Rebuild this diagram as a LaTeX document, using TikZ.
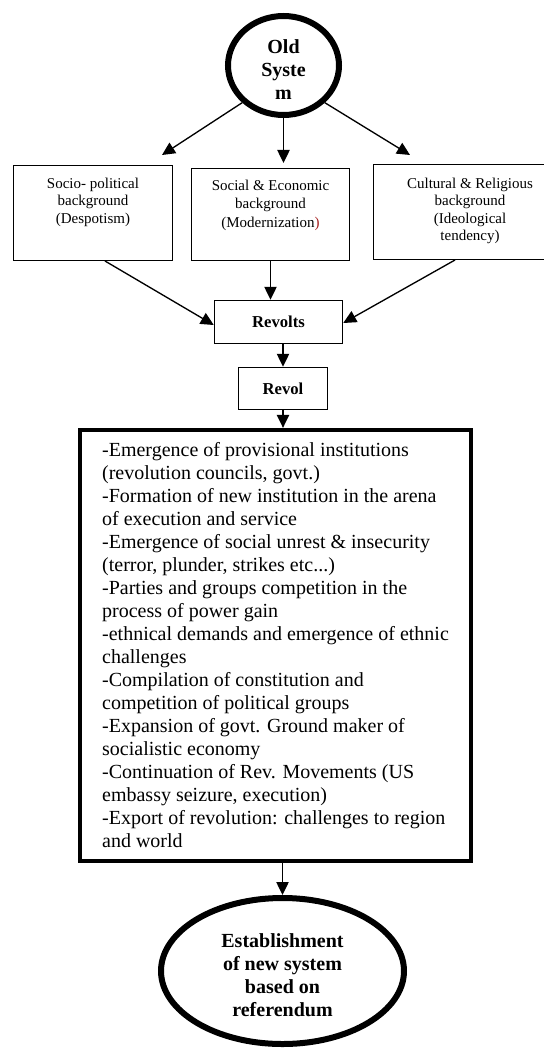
\documentclass[tikz,border=0pt]{standalone}
\usepackage{fontspec}
\setmainfont{Liberation Serif}
\usetikzlibrary{positioning,arrows.meta,calc,shapes.geometric}
\definecolor{parred}{RGB}{165,30,30}
\tikzset{
  bgbox/.style={draw,line width=0.6pt,inner sep=0pt,
                font=\fontsize{9pt}{10.5pt}\selectfont},
  revbox/.style={draw,line width=0.9pt,inner sep=0pt,
                 font=\fontsize{10pt}{12pt}\selectfont\bfseries},
  bigbox/.style={draw,line width=2.6pt,inner sep=0pt,align=left,
                 font=\fontsize{12pt}{13.8pt}\selectfont},
  sysoval/.style={draw,ellipse,line width=3.6pt,inner sep=0pt,align=center,
                  font=\fontsize{12pt}{13.8pt}\selectfont\bfseries},
  ln/.style={-{Triangle[length=7.8pt,width=7.4pt]},line width=0.8pt},
}
\newcommand{\lowered}[1]{\raisebox{-3.6pt}[\height][\depth]{\begin{tabular}{@{}c@{}}#1\end{tabular}}}

\begin{document}
\begin{tikzpicture}[x=0.6pt,y=-0.6pt]
\useasboundingbox (0,0) rectangle (543,1050);

\node[sysoval,minimum width=66.6pt,minimum height=59.4pt] (old) at (283.5,65.5)
     {\lowered{Old\\Syste\\m}};

\node[bgbox,minimum width=95.4pt,minimum height=57pt,text height=13.8pt,text depth=43.2pt]
     (sp) at (93,213)
     {\begin{tabular}[t]{@{}c@{}}Socio- political\\background\\(Despotism)\end{tabular}};
\node[bgbox,minimum width=94.8pt,minimum height=55.2pt,text height=13.2pt,text depth=42pt,
      right=10.8pt of sp,yshift=-0.9pt,font=\fontsize{9pt}{11pt}\selectfont] (se)
     {\begin{tabular}[t]{@{}c@{}}Social \& Economic\\background\\(Modernization\textcolor{parred}{)}\end{tabular}};
\node[bgbox,minimum width=115.8pt,minimum height=57pt,text height=14.4pt,text depth=42.6pt]
     (cr) at (470,212)
     {\begin{tabular}[t]{@{}c@{}}Cultural \& Religious\\background\\(Ideological\\tendency)\end{tabular}};

\coordinate (tipL) at (162,155);
\coordinate (tipR) at (410,155);
\draw[ln] (old.-138) -- (tipL);
\draw[ln,shorten >=3pt] (old.south) -- (old.south |- se.north);
\draw[ln] (old.-42) -- (tipR);

\node[revbox,minimum width=76.8pt,minimum height=25.8pt] (rvt) at (278.5,322) {Revolts};
\node[revbox,minimum width=53.4pt,minimum height=25.2pt] (rev) at (283,388.5) {Revol};

\draw[ln] ($(sp.south)+(12,0)$) -- ($(rvt.west)+(0,3)$);
\draw[ln] (se.south) -- (se.south |- rvt.north);
\draw[ln] ($(cr.south)+(-15,0)$) -- ($(rvt.east)+(0,1)$);
\draw[ln] (rev.north |- rvt.south) -- (rev.north);

\node[bigbox,minimum width=234.6pt,minimum height=258.6pt] (big) at (275.5,645.5)
     {-Emergence of provisional institutions\\
      (revolution councils, govt.)\\
      -Formation of new institution in the arena\\
      of execution and service\\
      -Emergence of social unrest \& insecurity\\
      (terror, plunder, strikes etc...)\\
      -Parties and groups competition in the\\
      process of power gain\\
      -ethnical demands and emergence of ethnic\\
      challenges\\
      -Compilation of constitution and\\
      competition of political groups\\
      -Expansion of govt. Ground maker of\\
      socialistic economy\\
      -Continuation of Rev. Movements (US\\
      embassy seizure, execution)\\
      -Export of revolution: challenges to region\\
      and world};
\draw[ln] (rev.south) -- (rev.south |- big.north);

\node[sysoval,minimum width=145.8pt,minimum height=87.6pt] (est) at (282.5,971)
     {\lowered{Establishment\\of new system\\based on\\referendum}};
\draw[ln] (est.north |- big.south) -- (est.north);

\end{tikzpicture}
\end{document}
